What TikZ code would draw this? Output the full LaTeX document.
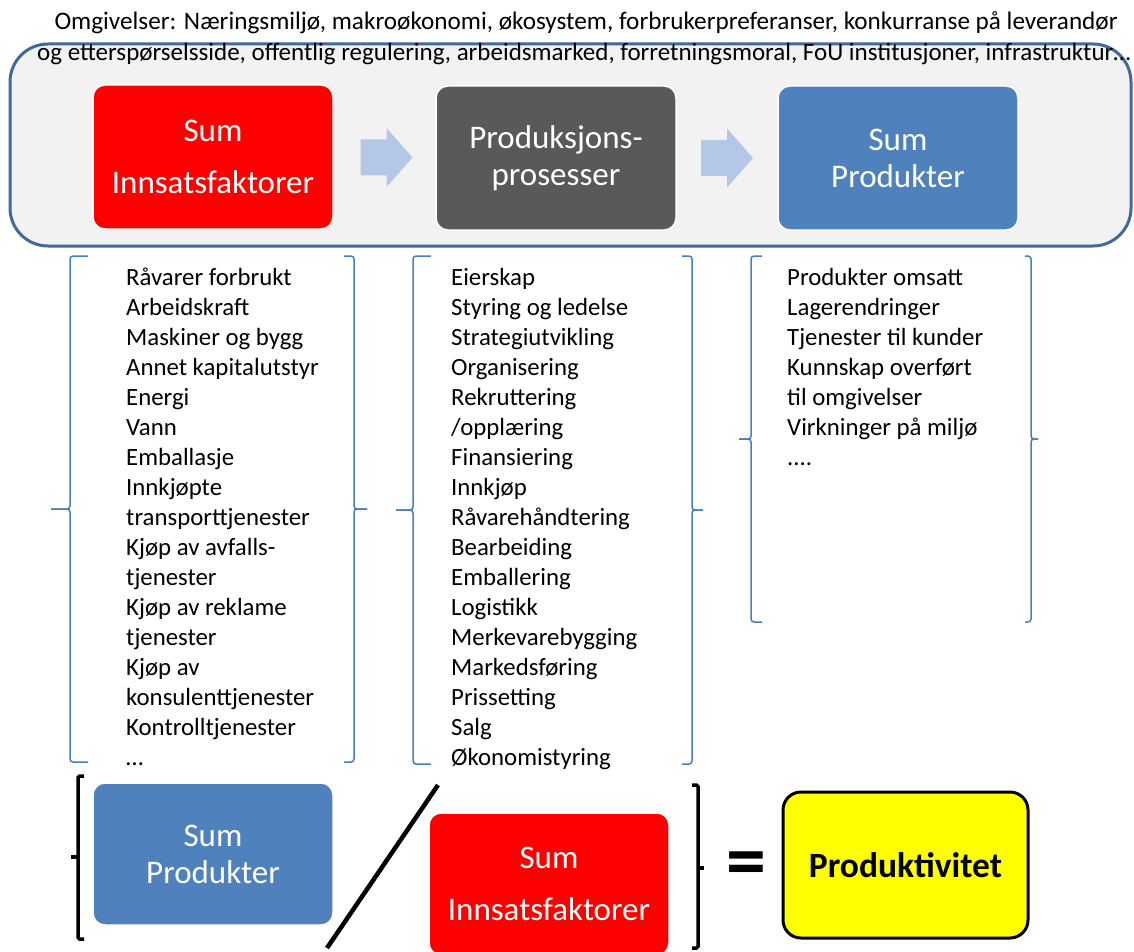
\documentclass[tikz,border=0pt]{standalone}
\usepackage{fontspec}
\setmainfont{Carlito}
\usetikzlibrary{calc}
\definecolor{facred}{HTML}{FF0000}
\definecolor{procgray}{HTML}{595959}
\definecolor{prodblue}{HTML}{4F81BD}
\definecolor{flowarrow}{HTML}{B4C7E7}
\definecolor{envfill}{HTML}{F2F2F2}
\definecolor{envline}{HTML}{41699A}
\definecolor{bracecol}{HTML}{4A7EBB}
\definecolor{resyellow}{HTML}{FFFF00}
\begin{document}
\begin{tikzpicture}[x=1pt,y=-1pt,
  sumbox/.style={rounded corners=12pt, draw=white, line width=1.5pt,
    minimum width=240pt, minimum height=144pt, inner sep=0pt,
    text=white, align=center, font=\fontsize{33}{37}\selectfont},
  widelead/.style={font=\fontsize{33}{52}\selectfont},
  listtext/.style={anchor=north west, inner sep=0pt, align=left,
    font=\fontsize{24.8}{30}\selectfont},
  titletext/.style={inner sep=0pt, font=\fontsize{25.2}{30}\selectfont},
  bracepath/.style={draw=bracecol, line width=1.5pt, rounded corners=3pt},
  bracket/.style={draw=black, line width=3.5pt, rounded corners=1.5pt},
  flowfill/.style={fill=flowarrow}]
\useasboundingbox (0,0) rectangle (1134,952);

% environment frame
\draw[fill=envfill, draw=envline, line width=3pt, rounded corners=38pt]
  (10,44) rectangle (1131,246);

% environment heading
\node[titletext] (env1) at (586,23)
  {Omgivelser: Næringsmiljø, makroøkonomi, økosystem, forbrukerpreferanser, konkurranse på leverandør};
\node[titletext, font=\fontsize{25}{30}\selectfont] (env2) at (584,54)
  {og etterspørselsside, offentlig regulering, arbeidsmarked, forretningsmoral, FoU institusjoner, infrastruktur…};

% main chain
\node[sumbox, fill=facred, widelead] (inA) at (213,157) {Sum\\Innsatsfaktorer};
\node[sumbox, fill=procgray] (proc) at (556,158) {Produksjons-\\prosesser};
\node[sumbox, fill=prodblue] (outA) at (898,158) {Sum\\Produkter};

% block arrows between the stages
\coordinate (m1) at ($(inA.east)!0.5!(proc.west)+(2,0)$);
\coordinate (m2) at ($(proc.east)!0.5!(outA.west)$);
\foreach \m in {m1,m2}{
  \fill[flowfill] ($(\m)+(-26,-18)$) -- ($(\m)+(0,-18)$) -- ($(\m)+(0,-29.5)$)
    -- ($(\m)+(26,0)$) -- ($(\m)+(0,29.5)$) -- ($(\m)+(0,18)$)
    -- ($(\m)+(-26,18)$) -- cycle;
}

% brace groups
% inputs
\draw[bracepath] (88,256) -- (70,256) -- (70,509) -- (51,509);
\draw[bracepath] (88,762) -- (70,762) -- (70,509) -- (51,509);
\draw[bracepath] (344,256) -- (354,256) -- (354,509) -- (367,509);
\draw[bracepath] (344,762) -- (354,762) -- (354,509) -- (367,509);
% processes
\draw[bracepath] (431,256) -- (413,256) -- (413,510) -- (396,510);
\draw[bracepath] (431,764) -- (413,764) -- (413,510) -- (396,510);
\draw[bracepath] (682,256) -- (692,256) -- (692,510) -- (703,510);
\draw[bracepath] (682,764) -- (692,764) -- (692,510) -- (703,510);
% products
\draw[bracepath] (762,256) -- (751,256) -- (751,439) -- (739,439);
\draw[bracepath] (762,622) -- (751,622) -- (751,439) -- (739,439);
\draw[bracepath] (1025,256) -- (1031,256) -- (1031,439) -- (1038,439);
\draw[bracepath] (1025,622) -- (1031,622) -- (1031,439) -- (1038,439);

\node[listtext] (inlist) at (126,268) {Råvarer forbrukt\\Arbeidskraft\\Maskiner og bygg\\Annet kapitalutstyr\\Energi\\Vann\\Emballasje\\Innkjøpte\\transporttjenester\\Kjøp av avfalls-\\tjenester\\Kjøp av reklame\\tjenester\\Kjøp av\\konsulenttjenester\\Kontrolltjenester\\…};
\node[listtext] (proclist) at (451,268) {Eierskap\\Styring og ledelse\\Strategiutvikling\\Organisering\\Rekruttering\\/opplæring\\Finansiering\\Innkjøp\\Råvarehåndtering\\Bearbeiding\\Emballering\\Logistikk\\Merkevarebygging\\Markedsføring\\Prissetting\\Salg\\Økonomistyring};
\node[listtext] (outlist) at (787,268) {Produkter omsatt\\Lagerendringer\\Tjenester til kunder\\Kunnskap overført\\til omgivelser\\Virkninger på miljø\\....};

% productivity ratio
\draw[bracket] (84,776) -- (78,776) -- (78,939) -- (84,939);
\draw[bracket] (78,857) -- (71,857);
\node[sumbox, fill=prodblue, minimum height=142pt] (outB) at (213,854) {Sum\\Produkter};
\node[sumbox, fill=facred, widelead, minimum height=142pt] (inB) at (549,884) {Sum\\Innsatsfaktorer};
\coordinate (slashtop) at (438,785);
\coordinate (slashbot) at (327,948);
\draw[line width=4.5pt] (slashtop) -- (slashbot);
\draw[bracket] (692,785) -- (698,785) -- (698,948) -- (692,948);
\draw[bracket] (698,868) -- (704,868);
\node[inner sep=0pt, font=\fontsize{80}{80}\selectfont\bfseries] (eq) at (746.5,870) {=};
\node[draw=black, line width=3pt, fill=resyellow, rounded corners=18pt,
  minimum width=245pt, minimum height=146pt, inner sep=0pt,
  font=\fontsize{35.5}{40}\selectfont\bfseries] (prod) at (905.5,865) {Produktivitet};
\end{tikzpicture}
\end{document}
